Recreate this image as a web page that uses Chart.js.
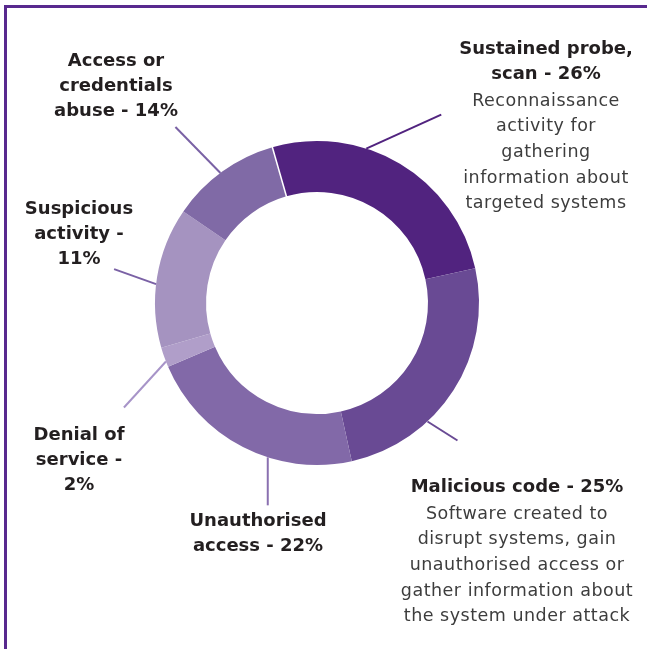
<!DOCTYPE html>
<html>
<head>
<meta charset="utf-8">
<script src="https://cdn.jsdelivr.net/npm/chart.js@4/dist/chart.umd.min.js"></script>
<style>
  html, body { margin: 0; padding: 0; background: #fff; }
  #wrap { position: relative; width: 647px; height: 649px; overflow: hidden; }
  #frame { position: absolute; left: 4px; top: 5px; width: 700px; height: 700px;
           border-left: 3px solid #58298e; border-top: 3px solid #58298e; }
  canvas { position: absolute; left: 0; top: 0; }
</style>
</head>
<body>
<div id="wrap">
  <div id="frame"></div>
  <canvas id="chart" width="647" height="649"></canvas>
</div>
<script>
// categories, clockwise from the top
const categories = ['Sustained probe, scan', 'Malicious code', 'Unauthorised access',
                    'Denial of service', 'Suspicious activity', 'Access or credentials abuse'];
// share of each ring segment as drawn
const values = [26, 25, 22, 2, 14, 11];
// label text (bold heading lines, then descriptive lines)
const headings = [
  ['Sustained probe,', 'scan - 26%'],
  ['Malicious code - 25%'],
  ['Unauthorised', 'access - 22%'],
  ['Denial of', 'service -', '2%'],
  ['Suspicious', 'activity -', '11%'],
  ['Access or', 'credentials', 'abuse - 14%']
];
const descriptions = [
  ['Reconnaissance', 'activity for', 'gathering', 'information about', 'targeted systems'],
  ['Software created to', 'disrupt systems, gain', 'unauthorised access or', 'gather information about', 'the system under attack'],
  [], [], [], []
];

const colors = ['#51237f', '#694a94', '#8269a8', '#b09ec9', '#a593c0', '#806aa6'];
const lineColors = ['#51237f', '#694a94', '#8a70b0', '#a794c8', '#7a61a5', '#7a62a5'];

// leader line: where it leaves the ring (fraction along arc) and how far it runs
const leaders = [
  { t: 0.36, dx: 75, dy: -34 },
  { t: 0.66, dx: 30, dy: 19 },
  { t: 0.38, dx: 0, dy: 48 },
  { t: 0.28, dx: -42, dy: 46 },
  { t: 0.45, dx: -42, dy: -15 },
  { t: 0.48, dx: -45, dy: -46 }
];
// label block anchor, relative to ring centre
const labelPos = [
  { x: 229, y: -254 },
  { x: 200, y: 184 },
  { x: -59, y: 218 },
  { x: -238, y: 132 },
  { x: -238, y: -94 },
  { x: -201, y: -242 }
];

const annotate = {
  id: 'annotate',
  afterDatasetsDraw(chart) {
    const ctx = chart.ctx;
    const arcs = chart.getDatasetMeta(0).data;
    const first = arcs[0];
    const cx = first.x, cy = first.y;

    // thin white gap where the first segment starts
    ctx.save();
    ctx.strokeStyle = '#fff';
    ctx.lineWidth = 1.5;
    ctx.beginPath();
    ctx.moveTo(cx + Math.cos(first.startAngle) * (first.innerRadius - 1), cy + Math.sin(first.startAngle) * (first.innerRadius - 1));
    ctx.lineTo(cx + Math.cos(first.startAngle) * (first.outerRadius + 1), cy + Math.sin(first.startAngle) * (first.outerRadius + 1));
    ctx.stroke();

    arcs.forEach((arc, i) => {
      const L = leaders[i];
      const a = arc.startAngle + (arc.endAngle - arc.startAngle) * L.t;
      const sx = cx + Math.cos(a) * arc.outerRadius;
      const sy = cy + Math.sin(a) * arc.outerRadius;
      ctx.strokeStyle = lineColors[i];
      ctx.lineWidth = 2;
      ctx.beginPath();
      ctx.moveTo(sx, sy);
      ctx.lineTo(sx + L.dx, sy + L.dy);
      ctx.stroke();

      const p = labelPos[i];
      let y = cy + p.y;
      ctx.textAlign = 'center';
      ctx.textBaseline = 'middle';
      ctx.fillStyle = '#231f20';
      ctx.letterSpacing = '0px';
      ctx.font = 'bold 18px "DejaVu Sans"';
      headings[i].forEach(line => { ctx.fillText(line, cx + p.x, y); y += 25; });
      ctx.fillStyle = '#3d3d3d';
      ctx.font = '17.5px "DejaVu Sans"';
      ctx.letterSpacing = '0.5px';
      y += 2;
      descriptions[i].forEach(line => { ctx.fillText(line, cx + p.x, y); y += 25.7; });
    });
    ctx.restore();
  }
};

new Chart(document.getElementById('chart'), {
  type: 'doughnut',
  data: {
    labels: categories,
    datasets: [{
      data: values,
      backgroundColor: colors,
      borderWidth: 0,
      hoverOffset: 0
    }]
  },
  options: {
    responsive: false,
    animation: false,
    rotation: -16,
    cutout: '68.5%',
    layout: { padding: { left: 155, right: 168, top: 141, bottom: 184 } },
    plugins: { legend: { display: false }, tooltip: { enabled: false } }
  },
  plugins: [annotate]
});
</script>
</body>
</html>
